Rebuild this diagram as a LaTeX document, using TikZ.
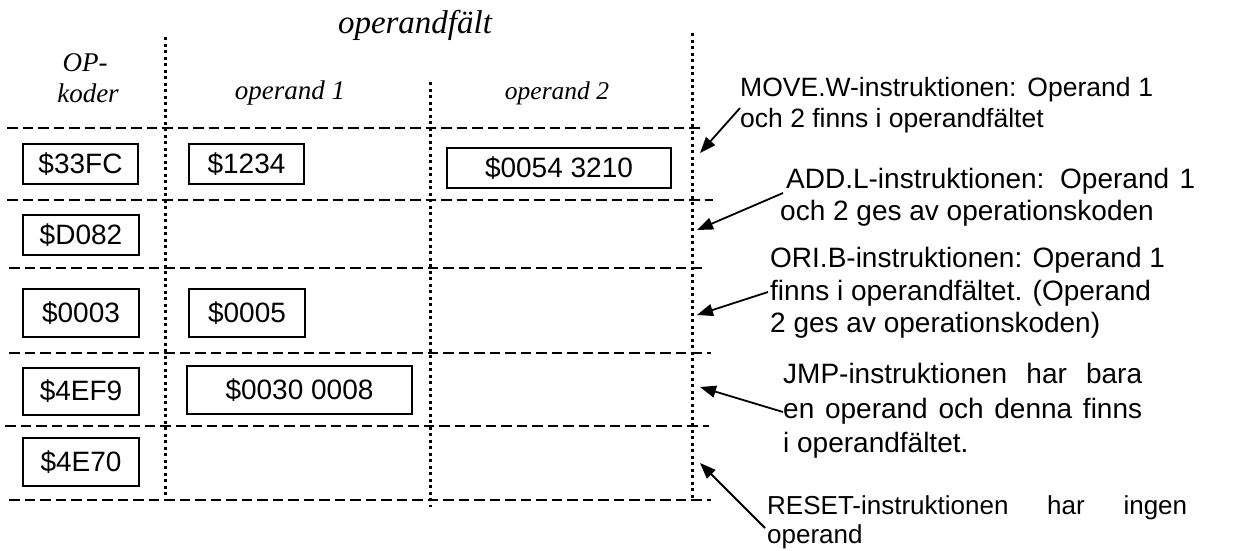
\documentclass[tikz,border=0pt]{standalone}
\usepackage{fontspec}
\setmainfont{Liberation Serif}
\newfontfamily\arialfont{Liberation Sans}
\usetikzlibrary{arrows.meta}
\begin{document}
\begin{tikzpicture}[x=1pt,y=-1pt,
  hdr/.style={font=\fontsize{#1}{#1}\selectfont\itshape, inner sep=0pt, anchor=center},
  hexbox/.style={draw, line width=1.8pt, inner sep=0pt, font=\arialfont\fontsize{28}{30}\selectfont},
  rowline/.style={line width=2.8pt, dash pattern=on 10.5pt off 5pt},
  colline/.style={line width=3pt, dash pattern=on 3pt off 3.5pt},
  note/.style={font=\arialfont\fontsize{#1}{#1}\selectfont, inner sep=0pt, anchor=base west},
  ptr/.style={line width=1.8pt, -{Triangle[length=16pt,width=12pt]}}
]
\useasboundingbox (0,0) rectangle (1234,550);

% header texts
\node[hdr=33] (fld) at (415,25) {operandfält};
\node[hdr=27] (op1) at (85,63) {OP-};
\node[hdr=27] (op2) at (88,93) {koder};
\node[hdr=27] (hop1) at (290,93) {operand 1};
\node[hdr=25.5] (hop2) at (557,93) {operand 2};

% row dividers
\draw[rowline] (7,128) -- (703,128);
\draw[rowline] (7,200) -- (713,200);
\draw[rowline] (9,268) -- (706,268);
\draw[rowline] (9,353) -- (711,353);
\draw[rowline] (5,426) -- (709,426);
\draw[rowline] (9,500) -- (711,500);

% column dividers
\draw[colline] (165,37) -- (165,497);
\draw[colline] (430,82) -- (430,507);
\draw[colline] (692,33) -- (692,498);

% boxes
\node[hexbox, minimum width=115pt, minimum height=40pt] (b11) at (80.5,164) {\$33FC};
\node[hexbox, minimum width=115pt, minimum height=40pt] (b12) at (246.5,164) {\$1234};
\node[hexbox, minimum width=224pt, minimum height=40pt] (b13) at (559,168) {\$0054 3210};
\node[hexbox, minimum width=116pt, minimum height=40pt] (b21) at (81,235) {\$D082};
\node[hexbox, minimum width=116pt, minimum height=48pt] (b31) at (81,313) {\$0003};
\node[hexbox, minimum width=116pt, minimum height=48pt] (b32) at (247,313) {\$0005};
\node[hexbox, minimum width=116pt, minimum height=47pt] (b41) at (81,391.5) {\$4EF9};
\node[hexbox, minimum width=225pt, minimum height=48pt] (b42) at (299.5,390) {\$0030 0008};
\node[hexbox, minimum width=116pt, minimum height=48pt] (b51) at (81,462) {\$4E70};

% explanations
\node[note=26.5] (m1) at (740,96) {\makebox[413pt][s]{MOVE.W-instruktionen: Operand 1}};
\node[note=26.5] (m2) at (740,127) {och 2 finns i operandfältet};

\node[note=28] (a1) at (786,188) {\makebox[409pt][s]{ADD.L-instruktionen: Operand 1}};
\node[note=28] (a2) at (780,220) {och 2 ges av operationskoden};

\node[note=28] (o1) at (770,267) {ORI.B-instruktionen: Operand 1};
\node[note=28] (o2) at (770,300) {finns i operandfältet. (Operand};
\node[note=28] (o3) at (770,332) {2 ges av operationskoden)};

\node[note=28] (j1) at (783,383) {\makebox[359pt][s]{JMP-instruktionen har bara}};
\node[note=28] (j2) at (783,418) {\makebox[359pt][s]{en operand och denna finns}};
\node[note=28] (j3) at (783,452) {i operandfältet.};

\node[note=26] (r1) at (767,514) {\makebox[420pt][s]{RESET-instruktionen har ingen}};
\node[note=26] (r2) at (767,543) {operand};

% arrows
\coordinate (t1) at (740,108);  \coordinate (h1) at (700,153);
\coordinate (t2) at (783,193);  \coordinate (h2) at (697,230);
\coordinate (t3) at (768,292);  \coordinate (h3) at (697,315);
\coordinate (t4) at (783,412);  \coordinate (h4) at (700,387);
\coordinate (t5) at (765,528);  \coordinate (h5) at (700,463);
\draw[ptr] (t1) -- (h1);
\draw[ptr] (t2) -- (h2);
\draw[ptr] (t3) -- (h3);
\draw[ptr] (t4) -- (h4);
\draw[ptr] (t5) -- (h5);
\end{tikzpicture}
\end{document}
